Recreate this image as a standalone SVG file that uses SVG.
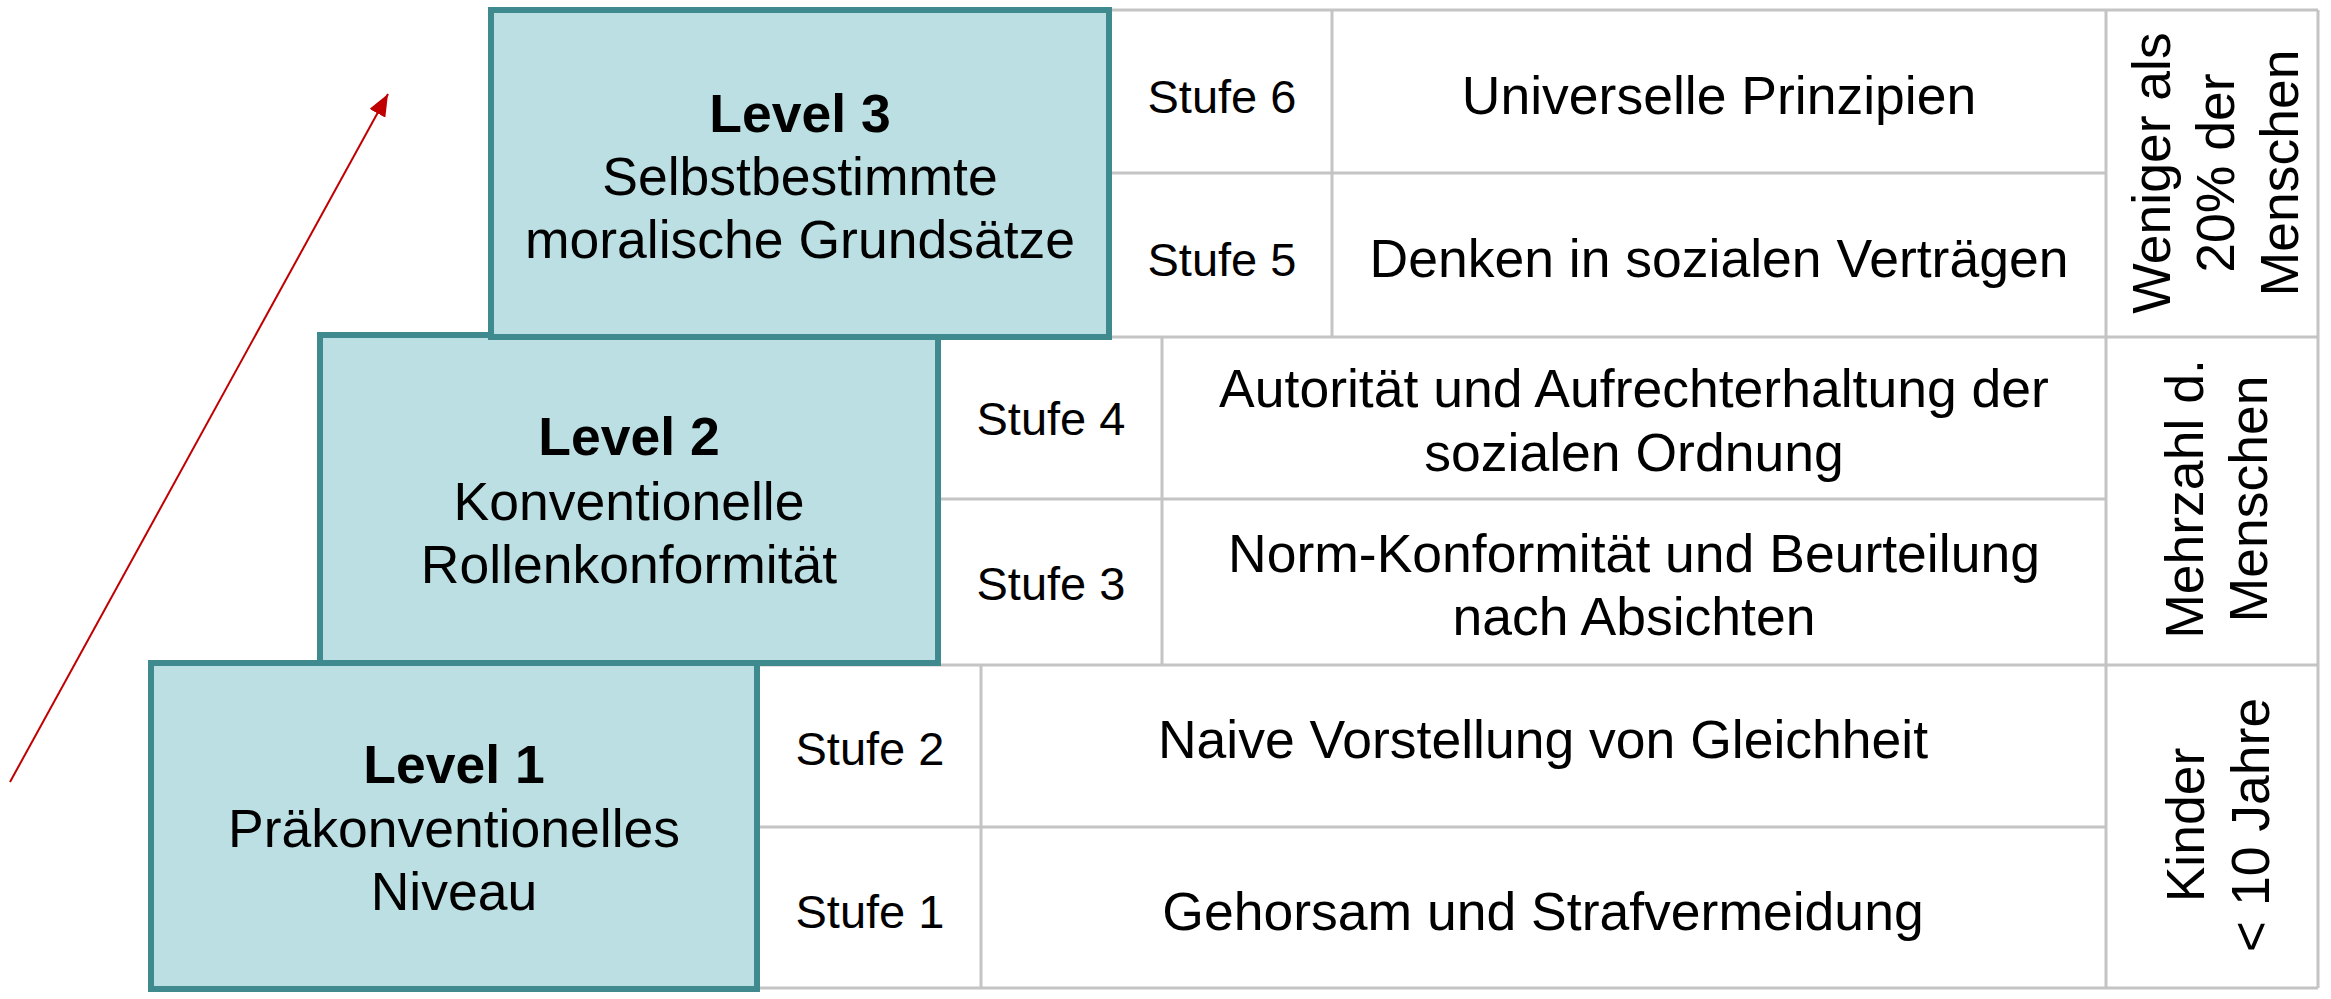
<svg xmlns="http://www.w3.org/2000/svg" width="2331" height="999" viewBox="0 0 2331 999">
  <style>
    text { font-family: "Liberation Sans", Arial, sans-serif; fill: #000; text-anchor: middle; }
    .lvl { fill: #BBDFE2; stroke: #3E8A8F; stroke-width: 6; stroke-linejoin: miter; }
    .grid { stroke: #C4C4C4; stroke-width: 3; fill: none; }
    .t { font-size: 53.5px; }
    .b { font-size: 53.5px; font-weight: bold; }
    .s { font-size: 47px; }
    .v { font-size: 53.5px; }
  </style>
  <defs>
    <marker id="head" viewBox="0 0 22 18" refX="22" refY="9" markerWidth="22" markerHeight="18" markerUnits="userSpaceOnUse" orient="auto">
      <path d="M0,0 L22,9 L0,18 z" fill="#C00000"/>
    </marker>
  </defs>
  <rect width="2331" height="999" fill="#FFFFFF"/>

  <!-- table grid -->
  <g id="grid" class="grid">
    <line x1="1109" y1="10" x2="2318" y2="10"/>
    <line x1="1109" y1="173" x2="2106" y2="173"/>
    <line x1="938" y1="337" x2="2318" y2="337"/>
    <line x1="938" y1="499" x2="2106" y2="499"/>
    <line x1="757" y1="665" x2="2318" y2="665"/>
    <line x1="757" y1="827" x2="2106" y2="827"/>
    <line x1="757" y1="988" x2="2318" y2="988"/>
    <line x1="1332" y1="10" x2="1332" y2="337"/>
    <line x1="1162" y1="337" x2="1162" y2="665"/>
    <line x1="981" y1="665" x2="981" y2="988"/>
    <line x1="2106" y1="10" x2="2106" y2="988"/>
    <line x1="2318" y1="10" x2="2318" y2="988"/>
  </g>

  <!-- level boxes -->
  <g id="level1">
    <rect class="lvl" x="151" y="663" width="606" height="326"/>
    <text class="b" x="454" y="783">Level 1</text>
    <text class="t" x="454" y="847">Präkonventionelles</text>
    <text class="t" x="454" y="910">Niveau</text>
  </g>
  <g id="level2">
    <rect class="lvl" x="320" y="335" width="618" height="328"/>
    <text class="b" x="629" y="455">Level 2</text>
    <text class="t" x="629" y="520">Konventionelle</text>
    <text class="t" x="629" y="583">Rollenkonformität</text>
  </g>
  <g id="level3">
    <rect class="lvl" x="491" y="10" width="618" height="327"/>
    <text class="b" x="800" y="132">Level 3</text>
    <text class="t" x="800" y="195">Selbstbestimmte</text>
    <text class="t" x="800" y="258">moralische Grundsätze</text>
  </g>

  <!-- stages -->
  <g id="stufe6">
    <text class="s" x="1222" y="113">Stufe 6</text>
    <text class="t" x="1719" y="114">Universelle Prinzipien</text>
  </g>
  <g id="stufe5">
    <text class="s" x="1222" y="276">Stufe 5</text>
    <text class="t" x="1719" y="277">Denken in sozialen Verträgen</text>
  </g>
  <g id="stufe4">
    <text class="s" x="1051" y="435">Stufe 4</text>
    <text class="t" x="1634" y="407">Autorität und Aufrechterhaltung der</text>
    <text class="t" x="1634" y="471">sozialen Ordnung</text>
  </g>
  <g id="stufe3">
    <text class="s" x="1051" y="600">Stufe 3</text>
    <text class="t" x="1634" y="572">Norm-Konformität und Beurteilung</text>
    <text class="t" x="1634" y="635">nach Absichten</text>
  </g>
  <g id="stufe2">
    <text class="s" x="870" y="765">Stufe 2</text>
    <text class="t" x="1543" y="758">Naive Vorstellung von Gleichheit</text>
  </g>
  <g id="stufe1">
    <text class="s" x="870" y="928">Stufe 1</text>
    <text class="t" x="1543" y="930">Gehorsam und Strafvermeidung</text>
  </g>

  <!-- share of population, vertical labels -->
  <g id="share3">
    <text class="v" transform="translate(2170,173) rotate(-90)">Weniger als</text>
    <text class="v" transform="translate(2234,173) rotate(-90)">20% der</text>
    <text class="v" transform="translate(2298,173) rotate(-90)">Menschen</text>
  </g>
  <g id="share2">
    <text class="v" transform="translate(2203,499) rotate(-90)">Mehrzahl d.</text>
    <text class="v" transform="translate(2267,499) rotate(-90)">Menschen</text>
  </g>
  <g id="share1">
    <text class="v" transform="translate(2204,825) rotate(-90)">Kinder</text>
    <text class="v" transform="translate(2269,825) rotate(-90)">&lt; 10 Jahre</text>
  </g>

  <!-- connectors -->
  <g id="connectors">
    <line x1="10" y1="782" x2="388" y2="94" stroke="#C00000" stroke-width="2" marker-end="url(#head)"/>
  </g>
</svg>
